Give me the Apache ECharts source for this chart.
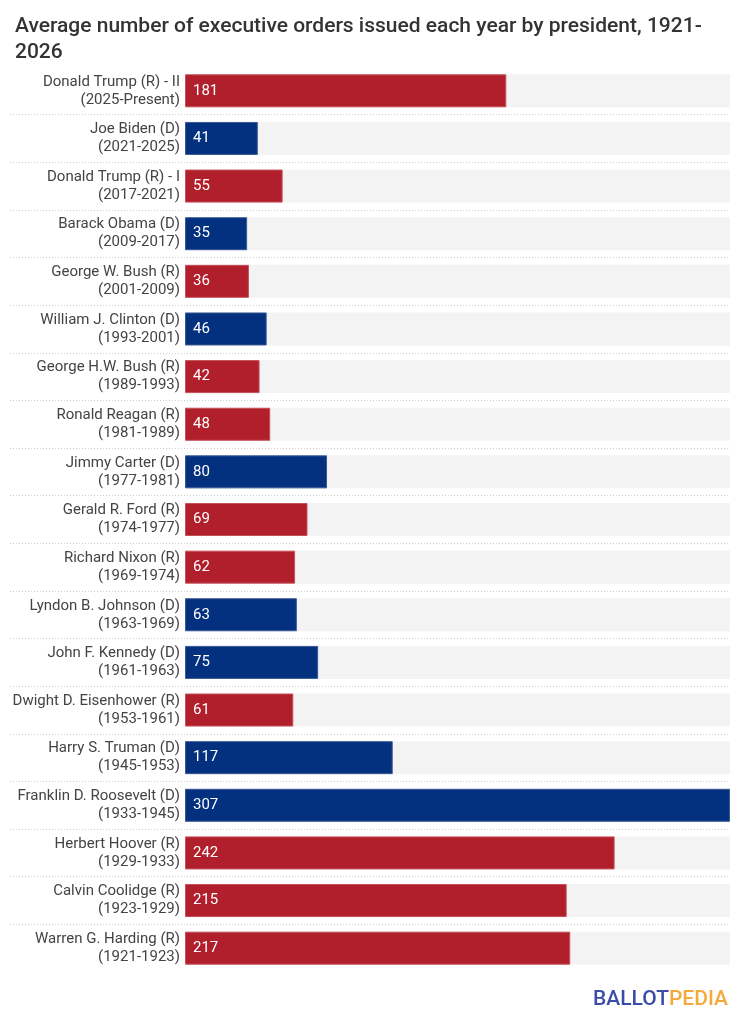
<!DOCTYPE html>
<html>
<head>
<meta charset="utf-8">
<script src="https://cdn.jsdelivr.net/npm/echarts@6/dist/echarts.min.js"></script>
<style>
html,body{margin:0;padding:0;background:#fff;}
#chart{width:743px;height:1024px;}
</style>
</head>
<body>
<div id="chart"></div>
<script>
const names = ["Donald Trump (R) - II","Joe Biden (D)","Donald Trump (R) - I","Barack Obama (D)","George W. Bush (R)","William J. Clinton (D)","George H.W. Bush (R)","Ronald Reagan (R)","Jimmy Carter (D)","Gerald R. Ford (R)","Richard Nixon (R)","Lyndon B. Johnson (D)","John F. Kennedy (D)","Dwight D. Eisenhower (R)","Harry S. Truman (D)","Franklin D. Roosevelt (D)","Herbert Hoover (R)","Calvin Coolidge (R)","Warren G. Harding (R)"];
const terms = ["2025-Present","2021-2025","2017-2021","2009-2017","2001-2009","1993-2001","1989-1993","1981-1989","1977-1981","1974-1977","1969-1974","1963-1969","1961-1963","1953-1961","1945-1953","1933-1945","1929-1933","1923-1929","1921-1923"];
const values = [181,41,55,35,36,46,42,48,80,69,62,63,75,61,117,307,242,215,217];
const parties = ["R","D","R","D","R","D","R","R","D","R","R","D","D","R","D","D","R","R","R"];

const partyColor = {R:'#B01F2B', D:'#03317F'};
const partyBorder = {R:'#c4505a', D:'#3a5894'};
const categories = names.map((n,i)=>n+'\n('+terms[i]+')');

const chart = echarts.init(document.getElementById('chart'));
const FONT = 'Roboto';
chart.setOption({
  animation:false,
  backgroundColor:'#ffffff',
  title:{
    text:'Average number of executive orders issued each year by president, 1921-\n2026',
    left:10, top:9,
    textStyle:{fontFamily:FONT, fontSize:21, fontWeight:500, color:'#333333', lineHeight:26}
  },
  grid:[
    {left:185, right:13, top:67, bottom:52, containLabel:false},
    {left:10, right:13, top:67, bottom:52, containLabel:false}
  ],
  xAxis:[
    {gridIndex:0, type:'value', min:0, max:307, show:false},
    {gridIndex:1, type:'value', min:0, max:1, show:false}
  ],
  yAxis:[
    {gridIndex:0, type:'category', data:categories, inverse:true,
     axisLine:{show:false}, axisTick:{show:false}, splitLine:{show:false},
     axisLabel:{fontFamily:FONT, fontSize:15, color:'#444444', lineHeight:18, align:'right', margin:5}
    },
    {gridIndex:1, type:'category', data:categories, inverse:true,
     axisLine:{show:false}, axisTick:{show:false}, axisLabel:{show:false},
     splitLine:{show:true, showMinLine:false, showMaxLine:false, lineStyle:{color:'#cccccc', type:[1,2], width:1}}
    }
  ],
  series:[{
    type:'bar',
    xAxisIndex:0, yAxisIndex:0,
    barWidth:33,
    showBackground:true,
    backgroundStyle:{color:'#F3F3F3'},
    data: values.map((v,i)=>({value:v, itemStyle:{color:partyColor[parties[i]], borderColor:partyBorder[parties[i]], borderWidth:1}})),
    label:{show:true, position:'insideLeft', distance:8, color:'#ffffff', fontFamily:FONT, fontSize:15}
  }],
  graphic:[{
    type:'text', right:15, top:989,
    style:{
      text:'{b|BALLOT}{p|PEDIA}',
      rich:{
        b:{fontFamily:FONT, fontSize:21, fontWeight:500, fill:'#3A4CA8'},
        p:{fontFamily:FONT, fontSize:21, fontWeight:500, fill:'#F4A93A'}
      }
    }
  }]
});
</script>
</body>
</html>
